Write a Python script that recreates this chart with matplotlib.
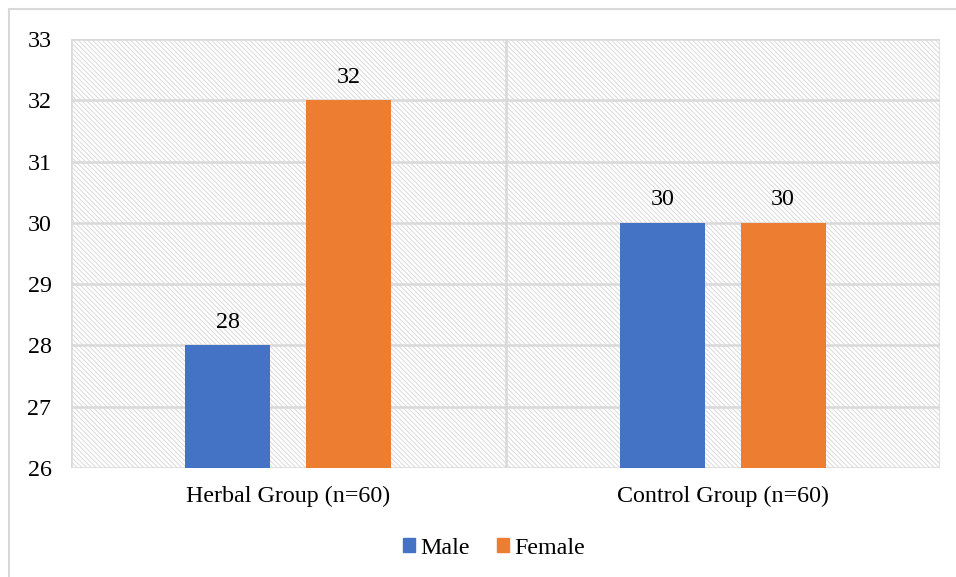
import matplotlib
matplotlib.use("Agg")
import matplotlib.pyplot as plt
import numpy as np
from matplotlib.patches import Rectangle
from matplotlib.lines import Line2D

categories = ["Herbal Group (n=60)", "Control Group (n=60)"]
male = [28, 30]
female = [32, 30]
series_names = ["Male", "Female"]
yticks = [26, 27, 28, 29, 30, 31, 32, 33]

plt.rcParams['font.family'] = ['Liberation Serif', 'DejaVu Serif']
plt.rcParams['hatch.linewidth'] = 0.7

fig = plt.figure(figsize=(9.56, 5.77), dpi=100)
ax = fig.add_axes([71/956, 1-468/577, (940-71)/956, (468-39)/577])

grid_c = '#d9d9d9'
# hatched background
bg = Rectangle((0, 0), 1, 1, transform=ax.transAxes, facecolor='white',
               edgecolor='#dadada', hatch='\\' * 7, linewidth=0, zorder=0)
ax.add_patch(bg)
ax.patch.set_visible(False)

x = np.arange(len(categories))
w = 0.195
off = 0.139
ax.bar(x - off, [m - 26 for m in male], w, bottom=26, color='#4472C4', zorder=3, label=series_names[0])
ax.bar(x + off, [f - 26 for f in female], w, bottom=26, color='#ED7D31', zorder=3, label=series_names[1])

for xi, v in zip(x - off, male):
    ax.annotate(f"{v}", (xi, v), xytext=(0, 9), textcoords='offset points',
                ha='center', va='bottom', fontsize=17.3, color='black')
for xi, v in zip(x + off, female):
    ax.annotate(f"{v}", (xi, v), xytext=(0, 9), textcoords='offset points',
                ha='center', va='bottom', fontsize=17.3, color='black')

ax.set_xlim(-0.5, 1.5)
ax.set_ylim(26, 33)
ax.set_yticks(yticks)
ax.set_yticklabels([str(t) for t in yticks], fontsize=17.3)
ax.set_xticks(x)
ax.set_xticklabels(categories, fontsize=17.3)
ax.tick_params(axis='both', length=0)
ax.tick_params(axis='y', pad=14)
ax.tick_params(axis='x', pad=13)

for t in yticks:
    ax.axhline(t, color=grid_c, linewidth=1.8, zorder=1)
for b in [-0.5, 0.5, 1.5]:
    ax.axvline(b, color=grid_c, linewidth=1.8, zorder=1)
for s in ax.spines.values():
    s.set_visible(False)

handles = [Rectangle((0, 0), 1, 1, color='#4472C4'), Rectangle((0, 0), 1, 1, color='#ED7D31')]
fig.legend(handles, series_names, loc='center', bbox_to_anchor=(494/956, 1-548/577),
           ncol=2, frameon=False, fontsize=17.3, handlelength=0.5, handleheight=0.5,
           handletextpad=0.25, columnspacing=1.1)

# outer frame (left and top edges visible)
fig.add_artist(Line2D([9/956, 9/956], [0, 1-9/577], transform=fig.transFigure, color='#d9d9d9', linewidth=1.5))
fig.add_artist(Line2D([9/956, 1], [1-9/577, 1-9/577], transform=fig.transFigure, color='#d9d9d9', linewidth=1.5))

fig.savefig("out.png", dpi=100)
